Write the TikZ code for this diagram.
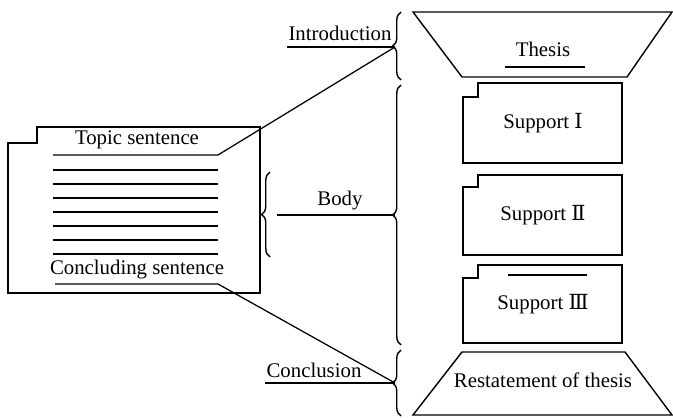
\documentclass[tikz,border=0pt]{standalone}
\usepackage{fontspec}
\setmainfont{Liberation Serif}
\newfontfamily\numfont{DejaVu Serif}
\usepackage{tikz}
\usetikzlibrary{decorations.pathreplacing,calc}

\begin{document}
\begin{tikzpicture}[
                x=0.025cm, y=-0.025cm,
                font=\fontsize{14.8}{17}\selectfont,
                outline/.style={draw=black, line width=1pt, line join=miter},
                txt/.style={inner sep=1pt, align=center},
                rule/.style={draw=black, line width=0.9pt},
                brc/.style={draw=black, line width=1pt, decorate, decoration={brace, amplitude=6pt}},
            ]
            \useasboundingbox (0,0) rectangle (673,418);

            % paragraph sheet
            \draw[outline] (37,127) -- (260,127) -- (260,293) -- (8,293) -- (8,143) -- (37,143) -- cycle;
            \node[txt] (topic) at (137,140) {Topic sentence};
            \node[txt] (concl) at (137,270) {Concluding sentence};
            \coordinate (tsL) at (53,155);
            \coordinate (tsR) at (218,155);
            \coordinate (csL) at (55,284);
            \coordinate (csR) at (218,284);
            \foreach \y in {170,184,198,212,226,240,254}
                \draw[rule, line width=0.8pt] (53,\y) -- (218,\y);

            % braces
            \draw[brc] (270,257) -- (270,172);
            \coordinate (smallTip) at (277,215);
            \draw[brc] (401,80) -- (401,12);
            \draw[brc] (401,345) -- (401,85);
            \draw[brc] (401,416) -- (401,350);
            \coordinate (introTip) at (395,47);
            \coordinate (bodyTip) at (395,215);
            \coordinate (concTip) at (395,383);

            % labels
            \node[txt] (intro) at (340,33) {Introduction};
            \node[txt] (body) at (340,201) {Body};
            \node[txt] (conc) at (314,370) {Conclusion};

            % essay column
            \draw[outline] (413,12) -- (672,12) -- (627,77) -- (462,77) -- cycle;
            \node[txt] (thesis) at (543,49) {Thesis};
            \draw[rule] (505,67) -- (585,67);
            \foreach \t/\s/\b/\n/\lab in {83/97/163/sup1/Ⅰ, 175/187/255/sup2/Ⅱ, 265/278/343/sup3/Ⅲ}{
                \draw[outline] (478,\t) -- (622,\t) -- (622,\b) -- (463,\b) -- (463,\s) -- (478,\s) -- cycle;
                \node[txt] (\n) at (543,{(\t+\b)/2}) {Support {\numfont\lab}};
            }
            \draw[rule] (508,275) -- (587,275);
            \draw[outline] (462,352) -- (625,352) -- (672,415) -- (413,415) -- cycle;
            \node[txt] (restate) at (543,380) {Restatement of thesis};

            % connectors
            \draw[rule] (tsL) -- (tsR) -- (introTip);
            \draw[rule] (intro.south west |- introTip) -- (introTip);
            \draw[rule] (smallTip) -- (bodyTip);
            \draw[rule] (csL) -- (csR) -- (concTip);
            \draw[rule] (conc.south west |- concTip) -- (concTip);
        \end{tikzpicture}
\end{document}
